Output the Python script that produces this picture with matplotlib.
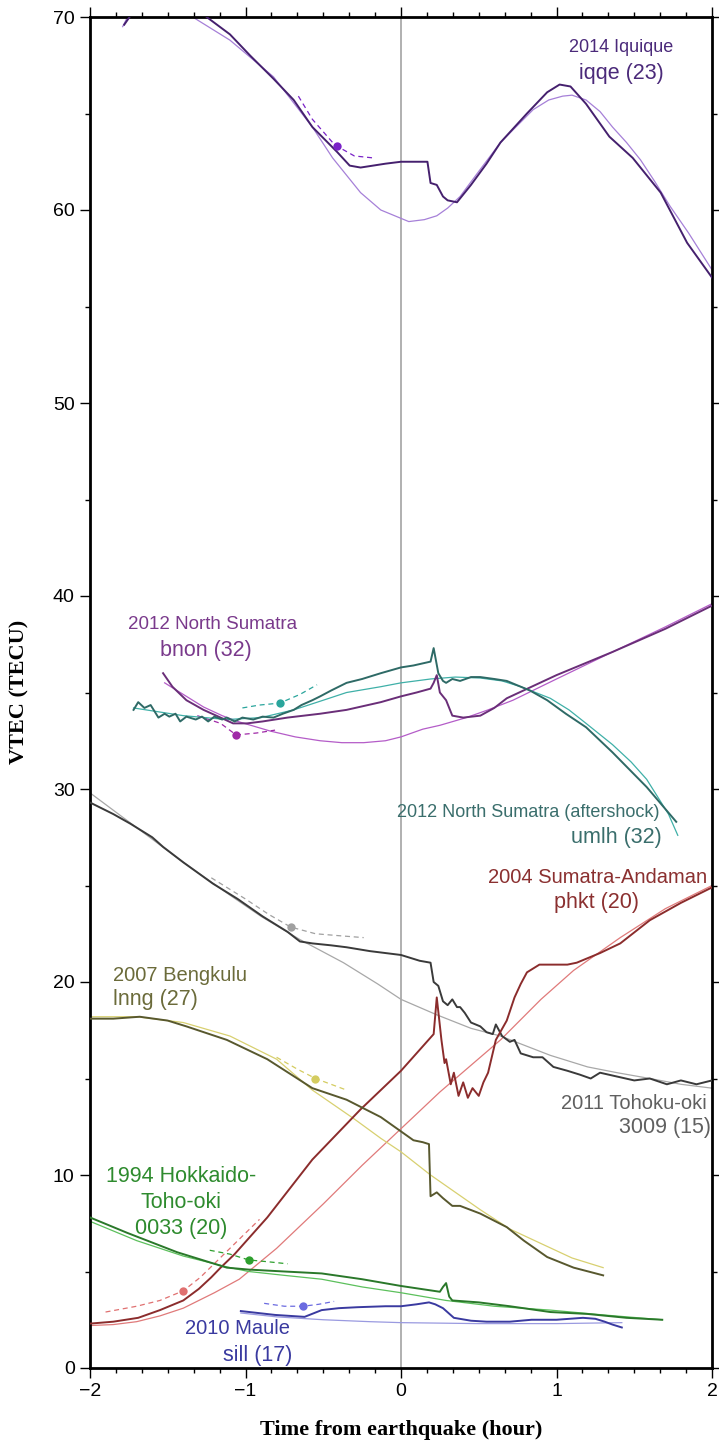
import matplotlib
matplotlib.use("Agg")
import matplotlib.pyplot as plt
from matplotlib.ticker import MultipleLocator

plt.rcParams["font.family"] = ["Liberation Sans", "DejaVu Sans"]

# ====== data (time in hours from earthquake, VTEC in TECU) ======
# 2014 Iquique - iqqe (23)
iqqe_obs_t = [-1.78, -1.72, -1.5, -1.25, -1.10, -0.97, -0.82, -0.69, -0.57, -0.41, -0.33, -0.26, -0.1, 0.0, 0.17,
              0.19, 0.23, 0.27, 0.30, 0.36, 0.45, 0.55, 0.64, 0.81, 0.94, 1.02, 1.09, 1.19, 1.34, 1.49, 1.67, 1.84, 2.0]
iqqe_obs_v = [69.6, 70.3, 72.0, 70.0, 69.1, 68.0, 66.8, 65.7, 64.3, 63.0, 62.3, 62.2, 62.4, 62.5, 62.5,
              61.4, 61.3, 60.7, 60.5, 60.4, 61.3, 62.4, 63.5, 65.0, 66.1, 66.5, 66.4, 65.5, 63.8, 62.7, 60.9, 58.3, 56.5]
iqqe_fit_t = [-1.79, -1.74, -1.5, -1.34, -1.1, -0.82, -0.57, -0.44, -0.35, -0.26, -0.13, 0.05, 0.15, 0.23, 0.3,
              0.38, 0.5, 0.64, 0.85, 0.95, 1.04, 1.1, 1.19, 1.28, 1.36, 1.45, 1.54, 1.63, 1.73, 1.85, 2.0]
iqqe_fit_v = [69.5, 70.3, 71.5, 70.0, 68.8, 66.9, 64.3, 62.7, 61.8, 60.9, 60.0, 59.4, 59.5, 59.7, 60.1,
              60.7, 62.0, 63.5, 65.2, 65.7, 65.9, 65.95, 65.7, 65.1, 64.3, 63.5, 62.6, 61.5, 60.2, 58.8, 56.9]
iqqe_ref_t = [-0.66, -0.57, -0.44, -0.41, -0.3, -0.18]
iqqe_ref_v = [65.9, 64.7, 63.5, 63.3, 62.8, 62.7]
iqqe_dot = (-0.41, 63.3)

# 2012 North Sumatra - bnon (32)
bnon_obs_t = [-1.53, -1.47, -1.38, -1.27, -1.16, -1.08, -0.99, -0.89, -0.73, -0.52, -0.35, -0.13, 0.0, 0.1, 0.19,
              0.21, 0.23, 0.25, 0.29, 0.33, 0.40, 0.51, 0.60, 0.68, 1.0, 1.36, 1.7, 2.0]
bnon_obs_v = [36.0, 35.3, 34.6, 34.1, 33.7, 33.4, 33.4, 33.5, 33.7, 33.9, 34.1, 34.5, 34.8, 35.0, 35.2,
              35.5, 35.9, 35.0, 34.6, 33.8, 33.7, 33.8, 34.2, 34.7, 35.9, 37.1, 38.3, 39.5]
bnon_fit_t = [-1.52, -1.38, -1.27, -1.15, -1.05, -0.84, -0.68, -0.52, -0.38, -0.24, -0.1, 0.0, 0.14, 0.25, 0.42,
              0.56, 0.72, 1.0, 1.36, 1.7, 2.0]
bnon_fit_v = [35.5, 34.8, 34.25, 33.8, 33.5, 33.0, 32.7, 32.5, 32.4, 32.4, 32.5, 32.7, 33.1, 33.3, 33.7,
              34.1, 34.6, 35.7, 37.1, 38.4, 39.6]
bnon_ref_t = [-1.31, -1.16, -1.06, -0.93, -0.81]
bnon_ref_v = [33.8, 33.4, 32.8, 32.9, 33.05]
bnon_dot = (-1.06, 32.8)

# 2012 North Sumatra (aftershock) - umlh (32)
umlh_obs_t = [-1.72, -1.69, -1.65, -1.61, -1.56, -1.52, -1.49, -1.45, -1.42, -1.38, -1.32, -1.28, -1.24, -1.20,
              -1.15, -1.12, -1.07, -1.02, -0.95, -0.89, -0.82, -0.76, -0.69, -0.64, -0.57, -0.52, -0.45, -0.35,
              -0.25, -0.13, 0.0, 0.08, 0.19, 0.21, 0.24, 0.27, 0.29, 0.33, 0.38, 0.45, 0.51, 0.6, 0.68, 0.83,
              0.94, 1.06, 1.19, 1.36, 1.58, 1.77]
umlh_obs_v = [34.1, 34.5, 34.2, 34.35, 33.7, 33.9, 33.75, 33.9, 33.5, 33.75, 33.6, 33.75, 33.5, 33.75,
              33.6, 33.7, 33.5, 33.7, 33.6, 33.75, 33.7, 33.9, 34.1, 34.35, 34.6, 34.8, 35.1, 35.5,
              35.7, 36.0, 36.3, 36.4, 36.6, 37.3, 36.0, 35.6, 35.5, 35.7, 35.6, 35.8, 35.8, 35.7, 35.6, 35.1,
              34.6, 33.9, 33.2, 31.9, 30.1, 28.3]
umlh_fit_t = [-1.72, -1.4, -1.12, -0.9, -0.69, -0.5, -0.35, -0.13, 0.0, 0.19, 0.35, 0.51, 0.65, 0.77, 0.96,
              1.08, 1.19, 1.36, 1.48, 1.58, 1.65, 1.72, 1.78]
umlh_fit_v = [34.2, 33.8, 33.6, 33.7, 34.1, 34.6, 35.0, 35.3, 35.5, 35.7, 35.8, 35.75, 35.6, 35.3, 34.7,
              34.1, 33.4, 32.3, 31.4, 30.5, 29.6, 28.7, 27.6]
umlh_ref_t = [-1.02, -0.91, -0.78, -0.65, -0.54]
umlh_ref_v = [34.2, 34.35, 34.45, 34.9, 35.4]
umlh_dot = (-0.78, 34.45)

# 2011 Tohoku-oki - 3009 (15)
toho_obs_t = [-2.0, -1.85, -1.74, -1.6, -1.53, -1.4, -1.21, -1.05, -0.89, -0.73, -0.65, -0.57, -0.45, -0.35,
              -0.2, 0.0, 0.12, 0.19, 0.21, 0.24, 0.27, 0.30, 0.33, 0.36, 0.38, 0.41, 0.45, 0.51, 0.55, 0.59,
              0.61, 0.65, 0.70, 0.73, 0.77, 0.85, 0.91, 0.98, 1.07, 1.15, 1.22, 1.28, 1.39, 1.5, 1.6, 1.71,
              1.8, 1.9, 2.0]
toho_obs_v = [29.3, 28.7, 28.2, 27.5, 27.0, 26.2, 25.1, 24.3, 23.4, 22.6, 22.1, 22.0, 21.9, 21.8,
              21.6, 21.4, 21.1, 21.0, 20.0, 19.8, 19.0, 18.8, 19.1, 18.7, 18.7, 18.4, 17.9, 17.7, 17.4, 17.3,
              17.8, 17.2, 16.9, 17.0, 16.3, 16.1, 16.1, 15.6, 15.4, 15.2, 15.0, 15.3, 15.1, 14.9, 15.0, 14.7,
              14.9, 14.7, 14.9]
toho_fit_t = [-2.0, -1.7, -1.4, -1.1, -0.9, -0.65, -0.37, -0.15, 0.0, 0.23, 0.45, 0.64, 0.96, 1.2, 1.39,
              1.6, 1.8, 2.0]
toho_fit_v = [29.8, 28.0, 26.2, 24.5, 23.4, 22.2, 21.0, 19.9, 19.1, 18.3, 17.6, 17.2, 16.2, 15.6, 15.3,
              15.0, 14.7, 14.5]
toho_ref_t = [-1.22, -1.0, -0.85, -0.71, -0.55, -0.4, -0.24]
toho_ref_v = [25.4, 24.3, 23.5, 22.85, 22.5, 22.4, 22.3]
toho_dot = (-0.71, 22.85)

# 2004 Sumatra-Andaman - phkt (20)
phkt_obs_t = [-2.0, -1.85, -1.69, -1.55, -1.4, -1.3, -1.22, -1.16, -1.07, -0.86, -0.57, -0.26, 0.0, 0.21,
              0.23, 0.26, 0.28, 0.29, 0.32, 0.34, 0.37, 0.40, 0.43, 0.46, 0.50, 0.53, 0.56, 0.61, 0.68, 0.73,
              0.77, 0.81, 0.89, 1.07, 1.13, 1.28, 1.41, 1.6, 1.8, 2.0]
phkt_obs_v = [2.3, 2.4, 2.6, 3.0, 3.5, 4.1, 4.7, 5.2, 5.9, 7.8, 10.8, 13.4, 15.4, 17.3,
              19.2, 17.0, 15.8, 16.0, 14.7, 15.3, 14.1, 14.8, 14.0, 14.5, 14.1, 14.8, 15.3, 17.0, 18.0, 19.2,
              19.9, 20.5, 20.9, 20.9, 21.0, 21.5, 22.0, 23.2, 24.1, 24.9]
phkt_fit_t = [-2.0, -1.85, -1.7, -1.55, -1.4, -1.2, -1.04, -0.8, -0.5, -0.25, 0.0, 0.25, 0.64, 0.9, 1.11, 1.41,
              1.7, 2.0]
phkt_fit_v = [2.2, 2.25, 2.4, 2.7, 3.1, 3.9, 4.6, 6.2, 8.5, 10.5, 12.4, 14.3, 17.0, 19.1, 20.6, 22.3,
              23.8, 25.0]
phkt_ref_t = [-1.90, -1.7, -1.55, -1.40, -1.29, -1.1, -0.91]
phkt_ref_v = [2.9, 3.2, 3.5, 4.0, 4.7, 6.2, 7.7]
phkt_dot = (-1.40, 4.0)

# 2007 Bengkulu - lnng (27)
lnng_obs_t = [-2.0, -1.85, -1.68, -1.5, -1.38, -1.12, -0.86, -0.57, -0.35, -0.13, 0.08, 0.14, 0.18, 0.19,
              0.23, 0.27, 0.33, 0.38, 0.51, 0.68, 0.79, 0.94, 1.11, 1.30]
lnng_obs_v = [18.1, 18.1, 18.2, 18.0, 17.7, 17.0, 16.0, 14.5, 13.9, 13.0, 11.8, 11.7, 11.6, 8.9,
              9.1, 8.8, 8.4, 8.4, 8.0, 7.3, 6.6, 5.75, 5.2, 4.8]
lnng_fit_t = [-2.0, -1.7, -1.4, -1.1, -0.8, -0.57, -0.3, -0.13, 0.0, 0.19, 0.35, 0.51, 0.7, 0.94, 1.1, 1.30]
lnng_fit_v = [18.2, 18.2, 17.9, 17.2, 16.0, 14.4, 12.9, 11.9, 11.2, 10.0, 9.1, 8.2, 7.2, 6.3, 5.7, 5.2]
lnng_ref_t = [-0.80, -0.67, -0.55, -0.45, -0.35]
lnng_ref_v = [16.1, 15.5, 15.0, 14.7, 14.4]
lnng_dot = (-0.55, 15.0)

# 1994 Hokkaido-Toho-oki - 0033 (20)
hkd_obs_t = [-2.0, -1.76, -1.44, -1.12, -0.98, -0.75, -0.51, -0.25, 0.0, 0.25, 0.27, 0.29, 0.31, 0.33, 0.5,
             0.7, 0.96, 1.2, 1.45, 1.68]
hkd_obs_v = [7.8, 7.0, 6.0, 5.2, 5.1, 5.0, 4.9, 4.6, 4.25, 3.95, 4.2, 4.4, 3.7, 3.5, 3.4,
             3.2, 2.9, 2.8, 2.6, 2.5]
hkd_fit_t = [-2.0, -1.7, -1.4, -1.1, -0.98, -0.75, -0.51, -0.25, 0.0, 0.29, 0.6, 0.96, 1.3, 1.68]
hkd_fit_v = [7.6, 6.6, 5.8, 5.2, 5.0, 4.8, 4.6, 4.2, 3.9, 3.5, 3.2, 3.0, 2.75, 2.5]
hkd_ref_t = [-1.23, -1.1, -0.98, -0.85, -0.73]
hkd_ref_v = [6.1, 5.9, 5.6, 5.5, 5.4]
hkd_dot = (-0.98, 5.6)

# 2010 Maule - sill (17)
sill_obs_t = [-1.03, -0.92, -0.81, -0.62, -0.51, -0.4, -0.28, -0.1, 0.0, 0.1, 0.18, 0.22, 0.27, 0.34, 0.45,
              0.55, 0.7, 0.84, 1.0, 1.17, 1.25, 1.31, 1.36, 1.42]
sill_obs_v = [2.95, 2.85, 2.75, 2.65, 3.0, 3.1, 3.15, 3.2, 3.2, 3.3, 3.4, 3.3, 3.1, 2.6, 2.45,
              2.4, 2.4, 2.5, 2.5, 2.6, 2.55, 2.4, 2.25, 2.1]
sill_fit_t = [-1.03, -0.8, -0.5, -0.2, 0.0, 0.5, 1.0, 1.42]
sill_fit_v = [2.85, 2.65, 2.5, 2.4, 2.35, 2.3, 2.3, 2.35]
sill_ref_t = [-0.88, -0.75, -0.63, -0.53, -0.43]
sill_ref_v = [3.35, 3.2, 3.2, 3.3, 3.45]
sill_dot = (-0.63, 3.2)


def draw_event(ax, obs_t, obs_v, fit_t, fit_v, ref_t, ref_v, dot, c_obs, c_fit, c_dot):
    ax.plot(fit_t, fit_v, color=c_fit, lw=0.9, zorder=2)
    ax.plot(obs_t, obs_v, color=c_obs, lw=1.4, zorder=3)
    ax.plot(ref_t, ref_v, color=c_dot, lw=0.9, ls=(0, (4, 3)), zorder=2)
    ax.plot([dot[0]], [dot[1]], "o", color=c_dot, ms=6, mec="none", zorder=4)


fig = plt.figure(figsize=(7.19, 14.44), dpi=100)
ax = fig.add_axes([90 / 719, 76 / 1444, 622 / 719, 1351 / 1444])

ax.axvline(0, color="#aaaaaa", lw=1.3, zorder=1)

draw_event(ax, iqqe_obs_t, iqqe_obs_v, iqqe_fit_t, iqqe_fit_v, iqqe_ref_t, iqqe_ref_v, iqqe_dot,
           "#45206e", "#a680d8", "#7a22c8")
draw_event(ax, bnon_obs_t, bnon_obs_v, bnon_fit_t, bnon_fit_v, bnon_ref_t, bnon_ref_v, bnon_dot,
           "#6a2e78", "#b45cc8", "#a02aa8")
draw_event(ax, umlh_obs_t, umlh_obs_v, umlh_fit_t, umlh_fit_v, umlh_ref_t, umlh_ref_v, umlh_dot,
           "#2e6a66", "#3fb0a8", "#2aa59c")
draw_event(ax, toho_obs_t, toho_obs_v, toho_fit_t, toho_fit_v, toho_ref_t, toho_ref_v, toho_dot,
           "#3a3a3a", "#a8a8a8", "#a0a0a0")
draw_event(ax, phkt_obs_t, phkt_obs_v, phkt_fit_t, phkt_fit_v, phkt_ref_t, phkt_ref_v, phkt_dot,
           "#8b2c2c", "#e07a7a", "#e07070")
draw_event(ax, lnng_obs_t, lnng_obs_v, lnng_fit_t, lnng_fit_v, lnng_ref_t, lnng_ref_v, lnng_dot,
           "#58582e", "#d8d070", "#d4cc60")
draw_event(ax, hkd_obs_t, hkd_obs_v, hkd_fit_t, hkd_fit_v, hkd_ref_t, hkd_ref_v, hkd_dot,
           "#2a782a", "#5cc05c", "#2ea02e")
draw_event(ax, sill_obs_t, sill_obs_v, sill_fit_t, sill_fit_v, sill_ref_t, sill_ref_v, sill_dot,
           "#3a3aa0", "#9a9ae0", "#6a6ae0")

# ====== labels ======
ax.text(1.415, 68.4, "2014 Iquique", color="#4b2a7a", fontsize=13, ha="center", va="center")
ax.text(1.42, 67.05, "iqqe (23)", color="#4b2a7a", fontsize=15.5, ha="center", va="center")
ax.text(-1.215, 38.5, "2012 North Sumatra", color="#7a3a8c", fontsize=13.5, ha="center", va="center")
ax.text(-1.254, 37.2, "bnon (32)", color="#7a3a8c", fontsize=15.5, ha="center", va="center")
ax.text(1.665, 28.76, "2012 North Sumatra (aftershock)", color="#3a6e6c", fontsize=13, ha="right", va="center")
ax.text(1.68, 27.5, "umlh (32)", color="#3a6e6c", fontsize=15.5, ha="right", va="center")
ax.text(1.267, 25.4, "2004 Sumatra-Andaman", color="#8b3030", fontsize=14.5, ha="center", va="center")
ax.text(1.26, 24.1, "phkt (20)", color="#8b3030", fontsize=15.5, ha="center", va="center")
ax.text(1.968, 13.73, "2011 Tohoku-oki", color="#606060", fontsize=14.5, ha="right", va="center")
ax.text(1.994, 12.44, "3009 (15)", color="#606060", fontsize=15.5, ha="right", va="center")
ax.text(-1.852, 20.36, "2007 Bengkulu", color="#6b6b3a", fontsize=14.5, ha="left", va="center")
ax.text(-1.852, 19.07, "lnng (27)", color="#6b6b3a", fontsize=15.5, ha="left", va="center")
ax.text(-1.415, 9.9, "1994 Hokkaido-", color="#2e8b2e", fontsize=15.5, ha="center", va="center")
ax.text(-1.415, 8.55, "Toho-oki", color="#2e8b2e", fontsize=15.5, ha="center", va="center")
ax.text(-1.415, 7.25, "0033 (20)", color="#2e8b2e", fontsize=15.5, ha="center", va="center")
ax.text(-0.714, 2.07, "2010 Maule", color="#3a3aa0", fontsize=14.5, ha="right", va="center")
ax.text(-0.70, 0.67, "sill (17)", color="#3a3aa0", fontsize=15.5, ha="right", va="center")

# ====== axes ======
ax.set_xlim(-2, 2)
ax.set_ylim(0, 70)
ax.xaxis.set_major_locator(MultipleLocator(1))
ax.xaxis.set_minor_locator(MultipleLocator(1 / 6))
ax.yaxis.set_major_locator(MultipleLocator(10))
ax.yaxis.set_minor_locator(MultipleLocator(5))
ax.tick_params(which="both", direction="out", top=True, right=True, width=1.0, labelsize=14, pad=4)
ax.tick_params(which="major", length=7)
ax.tick_params(which="minor", length=3.5)
for sp in ax.spines.values():
    sp.set_linewidth(2.0)

serif_bold = {"family": ["Liberation Serif", "DejaVu Serif"], "weight": "bold", "size": 16}
fig.text(401 / 719, 1 - 1430 / 1444, "Time from earthquake (hour)", ha="center", va="center", **serif_bold)
fig.text(19 / 719, 1 - 692 / 1444, "VTEC (TECU)", ha="center", va="center", rotation=90, **serif_bold)

fig.savefig("out.png", dpi=100)
